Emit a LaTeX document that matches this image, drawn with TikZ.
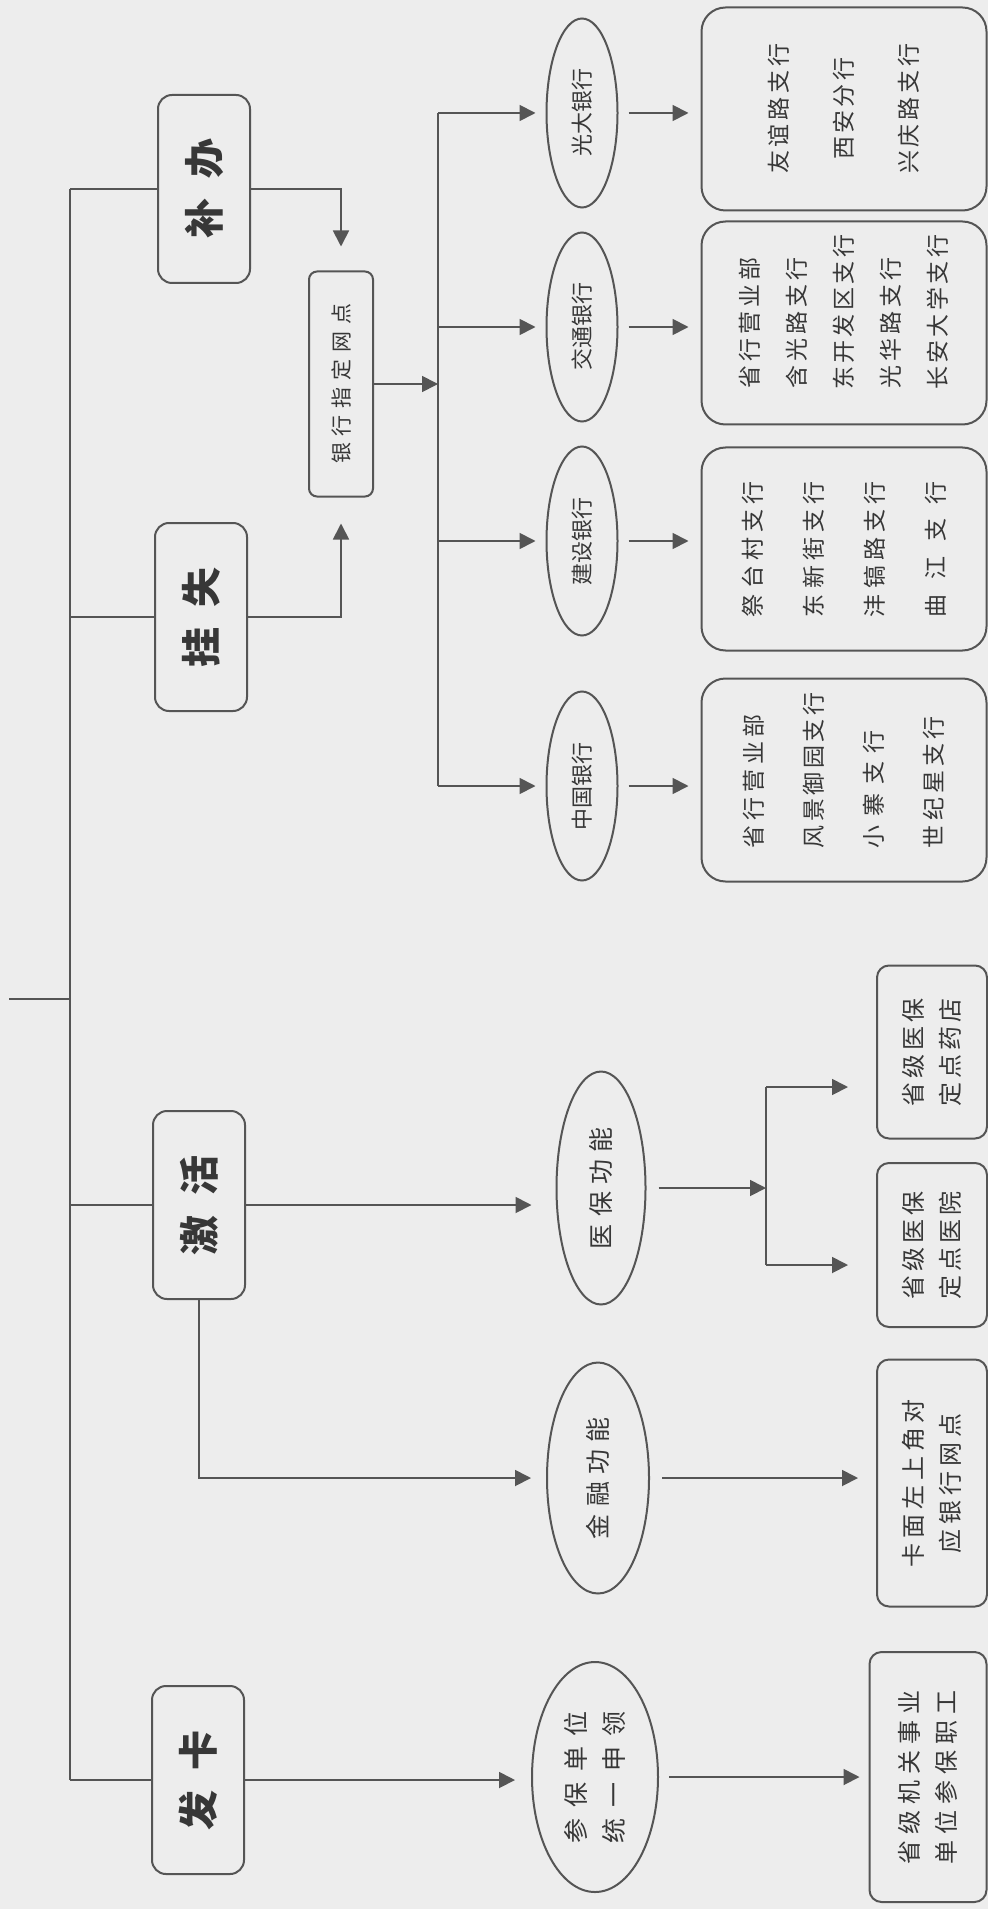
\documentclass[tikz,border=0pt]{standalone}
\usepackage{fontspec}
\setmainfont{Noto Sans CJK SC}
\usetikzlibrary{arrows.meta,shapes.geometric}
\definecolor{paper}{RGB}{237,237,237}
\definecolor{ink}{RGB}{85,85,85}
\definecolor{txt}{RGB}{55,55,55}
\newcommand\spreadto[2]{\makebox[#1][s]{#2}}
\tikzset{
	line/.style={draw=ink,line width=0.9pt},
	arrow/.style={line,-{Triangle[length=8pt,width=8pt]}},
	kind/.style={draw=ink,line width=1pt,rounded corners=7pt,rotate=90,minimum width=94pt,minimum height=46pt,inner sep=0pt,text=txt,font=\fontsize{20}{24}\selectfont\bfseries},
	bank/.style={draw=ink,line width=1pt,ellipse,rotate=90,minimum width=94.5pt,minimum height=35.5pt,inner sep=0pt,text=txt,font=\fontsize{11}{13}\selectfont},
	func/.style={bank,align=center,font=\fontsize{12.5}{19}\selectfont},
	branches/.style={draw=ink,line width=1pt,rounded corners=12pt,rotate=90,minimum width=101.5pt,minimum height=142.5pt,inner sep=0pt,align=center,text=txt,font=\fontsize{11.5}{#1}\selectfont},
	outlet/.style={draw=ink,line width=1pt,rounded corners=6pt,rotate=90,minimum height=55pt,inner sep=0pt,align=center,text=txt,font=\fontsize{12}{18.5}\selectfont}
}
\begin{document}
\begin{tikzpicture}[x=0.5pt,y=-0.5pt]
	\fill[paper] (0,0) rectangle (988,1909);
	% first level
	\node[kind] (bu) at (204,189) {补\enspace 办};
	\node[kind] (gua) at (201,617) {挂\enspace 失};
	\node[kind] (ji) at (199,1205) {激\enspace 活};
	\node[kind] (fa) at (198,1780) {发\enspace 卡};
	\coordinate (top) at (70,189);
	\coordinate (root) at (9,999);
	\draw[line] (top) -- (top |- fa);
	\draw[line] (root) -- (top |- root);
	\foreach \k in {bu,gua,ji,fa} \draw[line] (top |- \k) -- (\k);
	% loss and reissue
	\node[draw=ink,line width=1pt,rounded corners=4pt,rotate=90,minimum width=112.5pt,minimum height=32pt,inner sep=0pt,text=txt,font=\fontsize{10.5}{12}\selectfont] (wd) at (341,384) {\spreadto{80pt}{银 行 指 定 网 点}};
	\draw[arrow,shorten >=12pt] (bu) -| (wd);
	\draw[arrow,shorten >=13pt] (gua) -| (wd);
	\coordinate (bt) at (438,113);
	\draw[line] (bt) -- (438,786);
	\draw[arrow] (wd) -- (wd -| bt);
	\node[bank] (gd) at (582,113) {光大银行};
	\node[bank] (jt) at (582,327) {交通银行};
	\node[bank] (js) at (582,541) {建设银行};
	\node[bank] (zg) at (582,786) {中国银行};
	\node[branches=32.5pt] (gdl) at (844,109) {\spreadto{65pt}{友 谊 路 支 行}\\\spreadto{51pt}{西 安 分 行}\\\spreadto{65pt}{兴 庆 路 支 行}};
	\node[branches=23.5pt] (jtl) at (844,323) {\spreadto{66pt}{省 行 营 业 部}\\\spreadto{66pt}{含 光 路 支 行}\\\spreadto{67pt}{东 开 发 区 支 行}\\\spreadto{66pt}{光 华 路 支 行}\\\spreadto{67pt}{长 安 大 学 支 行}};
	\node[branches=30.5pt] (jsl) at (844,549) {\spreadto{68pt}{祭 台 村 支 行}\\\spreadto{68pt}{东 新 街 支 行}\\\spreadto{68pt}{沣 镐 路 支 行}\\\spreadto{68pt}{曲 江 支 行}};
	\node[branches=30pt,align=left] (zgl) at (844,780) {\spreadto{67pt}{省 行 营 业 部}\\\spreadto{68pt}{风 景 御 园 支 行}\\\spreadto{59pt}{小 寨 支 行}\\\spreadto{66pt}{世 纪 星 支 行}};
	\foreach \b/\l in {gd/gdl,jt/jtl,js/jsl,zg/zgl} {
		\draw[arrow,shorten >=5pt] (bt |- \b) -- (\b);
		\draw[arrow,shorten <=5pt,shorten >=6pt] (\b) -- (\b -| \l.north);
	}
	% activation
	\node[func,minimum width=116.5pt,minimum height=44.5pt] (yb) at (601,1188) {\spreadto{61pt}{医 保 功 能}};
	\node[func,minimum width=115.5pt,minimum height=51pt] (jr) at (598,1478) {\spreadto{61pt}{金 融 功 能}};
	\node[outlet,minimum width=86.5pt] (ydd) at (932,1052) {\spreadto{54pt}{省 级 医 保}\\\spreadto{54pt}{定 点 药 店}};
	\node[outlet,minimum width=82pt] (yy) at (932,1245) {\spreadto{54pt}{省 级 医 保}\\\spreadto{54pt}{定 点 医 院}};
	\node[outlet,minimum width=123.5pt] (kmb) at (932,1483) {\spreadto{84pt}{卡 面 左 上 角 对}\\\spreadto{70pt}{应 银 行 网 点}};
	\draw[arrow,shorten >=12pt] (ji) -- (ji -| yb.north);
	\draw[arrow,shorten >=7.5pt] (ji) |- (jr);
	\coordinate (s1) at (766,1087);
	\coordinate (s2) at (766,1265);
	\draw[line] (s1) -- (s2);
	\draw[arrow,shorten <=6pt] (yb) -- (yb -| s1);
	\draw[arrow,shorten >=14pt] (s1) -- (s1 -| ydd.north);
	\draw[arrow,shorten >=14pt] (s2) -- (s2 -| yy.north);
	\draw[arrow,shorten <=6pt,shorten >=9pt] (jr) -- (jr -| kmb.north);
	% issue
	\node[func,minimum width=115pt,minimum height=63pt] (cb) at (595,1777) {\spreadto{66pt}{参 保 单 位}\\\spreadto{66pt}{统 一 申 领}};
	\node[outlet,minimum width=125pt,minimum height=58.5pt] (szb) at (928,1777) {\spreadto{87pt}{省 级 机 关 事 业}\\\spreadto{87pt}{单 位 参 保 职 工}};
	\draw[arrow,shorten >=8pt] (fa) -- (fa -| cb.north);
	\draw[arrow,shorten <=5pt,shorten >=4.5pt] (cb) -- (cb -| szb.north);
\end{tikzpicture}
\end{document}
